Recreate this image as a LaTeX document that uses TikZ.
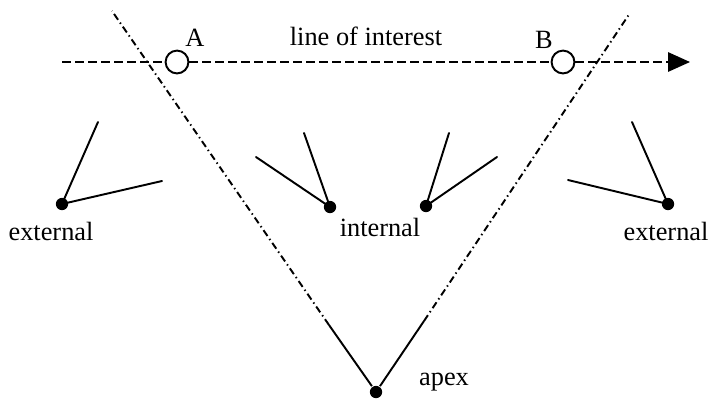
\documentclass[tikz,border=0pt]{standalone}
\usepackage{fontspec}
\setmainfont{Liberation Serif}
\usetikzlibrary{arrows.meta,positioning}

\begin{document}
\begin{tikzpicture}[x=0.02cm, y=-0.02cm, line width=1.1pt,
  pdot/.style={circle, fill=black, inner sep=0pt, minimum size=7pt},
  ring/.style={circle, draw, fill=white, inner sep=0pt, minimum size=13pt},
  spk/.style={line cap=round},
  vdd/.style={dash pattern=on 4pt off 2pt on 0.8pt off 2pt},
  hdsh/.style={dash pattern=on 5pt off 2.4pt},
  arr/.style={-{Triangle[length=12.5pt, width=11pt]}},
  lbl/.style={font=\fontsize{15}{18}\selectfont, inner sep=0pt, anchor=base}]
\useasboundingbox (0,0) rectangle (712,403);

% line of interest
\coordinate (lstart) at (62,62);
\coordinate (lend) at (690,62);
\node[ring] (A) at (177,62) {};
\node[ring] (B) at (563,62) {};
\draw[hdsh, arr] (lstart) -- (A) -- (B) -- (lend);
\node[lbl] (lA) at (195,46) {A};
\node[lbl] (lB) at (544,48) {B};
\node[lbl] (loi) at (366,45) {line of interest};

% the V
\node[pdot] (apex) at (376,392) {};
\coordinate (lmid) at (329,325);
\coordinate (rmid) at (424,321);
\coordinate (ltop) at (112,11);
\coordinate (rtop) at (630,13);
\draw (apex) -- (lmid);
\draw (apex) -- (rmid);
\draw[vdd] (lmid) -- (ltop);
\draw[vdd] (rmid) -- (rtop);
\node[lbl] (lapex) at (444,385) {apex};

% points with their spokes
\node[pdot] (ext1) at (62,204) {};
\node[pdot] (int1) at (330,207) {};
\node[pdot] (int2) at (426,206) {};
\node[pdot] (ext2) at (668,204) {};
\foreach \p/\x/\y in {ext1/98/122, ext1/162/181, int1/304/133, int1/256/157,
                      int2/449/133, int2/497/157, ext2/632/122, ext2/568/180}{
  \draw[spk] (\p.center) -- (\x,\y);}
\node[lbl] (lext1) at (51,240) {external};
\node[lbl] (lint) at (380,236) {internal};
\node[lbl] (lext2) at (666,240) {external};
\end{tikzpicture}
\end{document}
